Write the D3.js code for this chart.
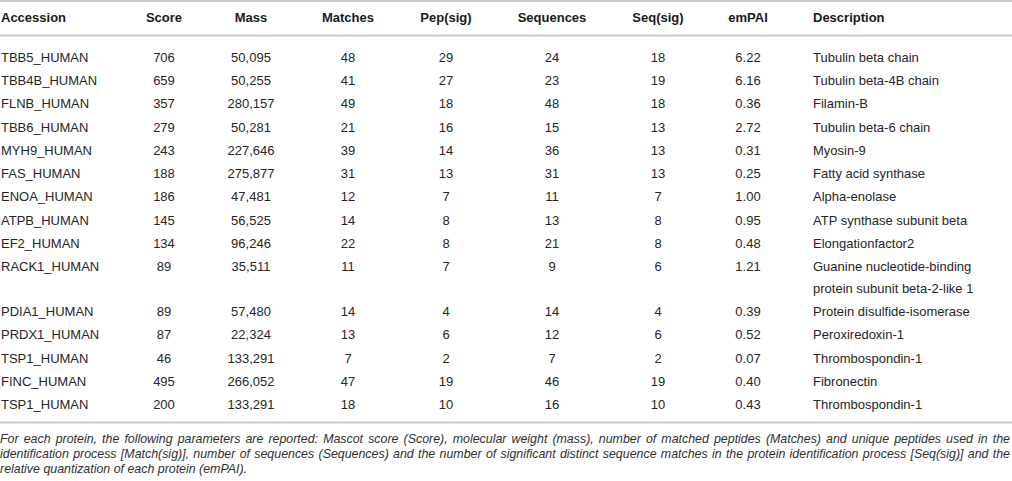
<!DOCTYPE html>
<html>
<head>
<meta charset="utf-8">
<script src="https://cdnjs.cloudflare.com/ajax/libs/d3/7.8.5/d3.min.js"></script>
<style>
  body { margin: 0; background: #fff; }
  svg { display: block; }
  text { font-family: "Liberation Sans", Arial, Helvetica, sans-serif; fill: #262626; }
  .head { font-weight: bold; fill: #1a1a1a; }
  .note { font-style: italic; fill: #303030; }
</style>
</head>
<body>
<script>
// table values
const headers = ['Accession', 'Score', 'Mass', 'Matches', 'Pep(sig)', 'Sequences', 'Seq(sig)', 'emPAI', 'Description'];

const accession = ['TBB5_HUMAN', 'TBB4B_HUMAN', 'FLNB_HUMAN', 'TBB6_HUMAN', 'MYH9_HUMAN', 'FAS_HUMAN',
  'ENOA_HUMAN', 'ATPB_HUMAN', 'EF2_HUMAN', 'RACK1_HUMAN', 'PDIA1_HUMAN', 'PRDX1_HUMAN', 'TSP1_HUMAN',
  'FINC_HUMAN', 'TSP1_HUMAN'];
const score = [706, 659, 357, 279, 243, 188, 186, 145, 134, 89, 89, 87, 46, 495, 200];
const mass = [50095, 50255, 280157, 50281, 227646, 275877, 47481, 56525, 96246, 35511, 57480, 22324, 133291, 266052, 133291];
const matches = [48, 41, 49, 21, 39, 31, 12, 14, 22, 11, 14, 13, 7, 47, 18];
const pepSig = [29, 27, 18, 16, 14, 13, 7, 8, 8, 7, 4, 6, 2, 19, 10];
const sequences = [24, 23, 48, 15, 36, 31, 11, 13, 21, 9, 14, 12, 7, 46, 16];
const seqSig = [18, 19, 18, 13, 13, 13, 7, 8, 8, 6, 4, 6, 2, 19, 10];
const empai = [6.22, 6.16, 0.36, 2.72, 0.31, 0.25, 1.00, 0.95, 0.48, 1.21, 0.39, 0.52, 0.07, 0.40, 0.43];
const description = ['Tubulin beta chain', 'Tubulin beta-4B chain', 'Filamin-B', 'Tubulin beta-6 chain',
  'Myosin-9', 'Fatty acid synthase', 'Alpha-enolase', 'ATP synthase subunit beta', 'Elongationfactor2',
  'Guanine nucleotide-binding protein subunit beta-2-like 1', 'Protein disulfide-isomerase',
  'Peroxiredoxin-1', 'Thrombospondin-1', 'Fibronectin', 'Thrombospondin-1'];

const footnote = [
  'For each protein, the following parameters are reported: Mascot score (Score), molecular weight (mass), number of matched peptides (Matches) and unique peptides used in the',
  'identification process [Match(sig)], number of sequences (Sequences) and the number of significant distinct sequence matches in the protein identification process [Seq(sig)] and the',
  'relative quantization of each protein (emPAI).'
];

const width = 1012;
const height = 481;
const fontSize = 13;
const lineHeight = 21.5;
const rowPad = 1.8;
const descWidth = 196;

const fmtMass = d3.format(',');
const fmtEmpai = d3.format('.2f');

const columns = [
  { key: 'Accession', values: accession, fmt: String, anchor: 'start' },
  { key: 'Score', values: score, fmt: String, anchor: 'middle' },
  { key: 'Mass', values: mass, fmt: fmtMass, anchor: 'middle' },
  { key: 'Matches', values: matches, fmt: String, anchor: 'middle' },
  { key: 'Pep(sig)', values: pepSig, fmt: String, anchor: 'middle' },
  { key: 'Sequences', values: sequences, fmt: String, anchor: 'middle' },
  { key: 'Seq(sig)', values: seqSig, fmt: String, anchor: 'middle' },
  { key: 'emPAI', values: empai, fmt: fmtEmpai, anchor: 'middle' },
  { key: 'Description', values: description, fmt: String, anchor: 'start' }
];

// column anchor positions (left edge for text columns, centre for numbers)
const x = d3.scaleOrdinal()
  .domain(headers)
  .range([1, 164, 251, 348, 446, 552, 658, 748, 813]);

const svg = d3.select('body').append('svg')
  .attr('width', width)
  .attr('height', height);

// wrap long descriptions into lines no wider than descWidth
const probe = svg.append('text').style('font-size', fontSize + 'px');
function wrap(str) {
  const words = str.split(' ');
  const lines = [];
  let cur = '';
  words.forEach(function(w) {
    const test = cur ? cur + ' ' + w : w;
    probe.text(test);
    if (cur && probe.node().getComputedTextLength() > descWidth) {
      lines.push(cur);
      cur = w;
    } else {
      cur = test;
    }
  });
  lines.push(cur);
  return lines;
}
const descLines = description.map(wrap);
probe.remove();

// row positions from the line count of each row
const rowTop = [];
let acc = 0;
descLines.forEach(function(l) {
  rowTop.push(acc);
  acc += l.length * lineHeight + rowPad;
});
const y = d3.scaleLinear().domain([0, 1]).range([57, 58]);

// rules
const ruleColor = '#c9c9c9';
const rules = [1, 35.5, 422.5];
svg.selectAll('line.rule').data(rules).enter()
  .append('line')
    .attr('class', 'rule')
    .attr('x1', 0).attr('x2', width)
    .attr('y1', d => d).attr('y2', d => d)
    .attr('stroke', ruleColor)
    .attr('stroke-width', 2);

// header
svg.selectAll('text.head').data(columns).enter()
  .append('text')
    .attr('class', 'head')
    .attr('x', d => x(d.key))
    .attr('y', 22)
    .attr('text-anchor', d => d.anchor)
    .style('font-size', fontSize + 'px')
    .text(d => d.key);

// body cells
const rows = svg.selectAll('g.row').data(accession).enter()
  .append('g')
    .attr('class', 'row')
    .attr('transform', (d, i) => 'translate(0,' + (y(rowTop[i]) + 4.6) + ')');

rows.each(function(d, i) {
  const g = d3.select(this);
  columns.forEach(function(c) {
    const t = g.append('text')
      .attr('x', x(c.key))
      .attr('text-anchor', c.anchor)
      .style('font-size', fontSize + 'px');
    if (c.key === 'Description') {
      t.selectAll('tspan').data(descLines[i]).enter()
        .append('tspan')
          .attr('x', x(c.key))
          .attr('dy', (l, j) => j === 0 ? 0 : lineHeight)
          .text(l => l);
    } else {
      t.text(c.fmt(c.values[i]));
    }
  });
});

// footnote, first lines justified to the full width
const note = svg.selectAll('text.note').data(footnote).enter()
  .append('text')
    .attr('class', 'note')
    .attr('x', 0)
    .attr('y', (d, i) => 443 + i * 14.8)
    .style('font-size', '12.4px')
    .text(d => d);

note.each(function(d, i) {
  if (i === footnote.length - 1) return;
  const natural = this.getComputedTextLength();
  const spaces = d.split(' ').length - 1;
  d3.select(this).attr('word-spacing', ((width - 2 - natural) / spaces) + 'px');
});
</script>
</body>
</html>
